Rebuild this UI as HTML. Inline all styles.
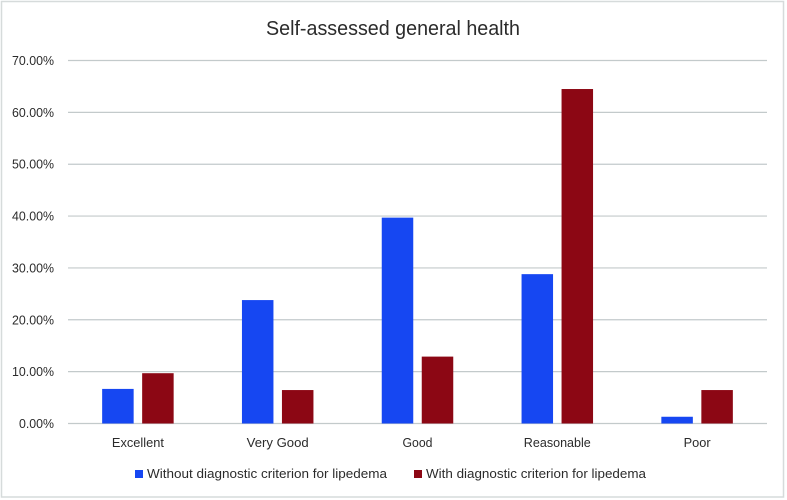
<!DOCTYPE html>
<html>
<head>
<meta charset="utf-8">
<style>
html,body{margin:0;padding:0;background:#fff;width:787px;height:500px;overflow:hidden}
svg{display:block}
text{font-family:"Liberation Sans",sans-serif;fill:#2b2b2b}
</style>
</head>
<body>
<svg id="chart" width="787" height="500" viewBox="0 0 787 500" xmlns="http://www.w3.org/2000/svg">
<rect x="1.5" y="1.5" width="782" height="495.5" fill="#fff" stroke="#d6dbdb" stroke-width="1.5"/>
<text x="393" y="35" font-size="20" text-anchor="middle" textLength="254" lengthAdjust="spacingAndGlyphs">Self-assessed general health</text>
<g id="grid"></g>
<g id="bars"></g>
<g id="labels"></g>
<rect x="135" y="470" width="8" height="8" fill="#1647f2"/>
<text x="147" y="478" font-size="13" textLength="240" lengthAdjust="spacingAndGlyphs">Without diagnostic criterion for lipedema</text>
<rect x="414" y="470" width="8" height="8" fill="#8c0714"/>
<text x="426" y="478" font-size="13" textLength="220" lengthAdjust="spacingAndGlyphs">With diagnostic criterion for lipedema</text>
</svg>
<script>
const categories = ["Excellent", "Very Good", "Good", "Reasonable", "Poor"];
const categoryWidths = [52, 62, 30, 67, 27];
const withoutCriterion = [6.67, 23.8, 39.7, 28.8, 1.3];
const withCriterion = [9.7, 6.45, 12.9, 64.5, 6.45];
const tickValues = [0, 10, 20, 30, 40, 50, 60, 70];
const tickLabels = ["0.00%", "10.00%", "20.00%", "30.00%", "40.00%", "50.00%", "60.00%", "70.00%"];

const NS = "http://www.w3.org/2000/svg";
const plotLeft = 68, plotRight = 767, plotTop = 60.5, plotBottom = 423.5, axisMax = 70;
const barWidth = 31.5, barGap = 8.5;
const yScale = v => plotBottom - (v / axisMax) * (plotBottom - plotTop);
const bandWidth = (plotRight - plotLeft) / categories.length;
const xCenter = i => plotLeft + bandWidth * (i + 0.5);

function make(tag, attrs, text) {
  const el = document.createElementNS(NS, tag);
  for (const k in attrs) el.setAttribute(k, attrs[k]);
  if (text !== undefined) el.textContent = text;
  return el;
}

const grid = document.getElementById("grid");
const bars = document.getElementById("bars");
const labels = document.getElementById("labels");

tickValues.forEach((t, i) => {
  const line = make("line", {x1: plotLeft, x2: plotRight, y1: yScale(t), y2: yScale(t), stroke: "#c3cacb", "stroke-width": 1.2});
  
  
  grid.appendChild(line);
  const label = make("text", {x: 54, y: yScale(t) + 4.5, "font-size": 13, "text-anchor": "end", textLength: tickLabels[i].length * 7, lengthAdjust: "spacingAndGlyphs"}, tickLabels[i]);
  
  
  labels.appendChild(label);
});

categories.forEach((c, i) => {
  const cx = xCenter(i);
  const b1 = make("rect", {x: cx - barGap / 2 - barWidth, y: yScale(withoutCriterion[i]), width: barWidth, height: plotBottom - yScale(withoutCriterion[i]), fill: "#1647f2"});
  
  
  bars.appendChild(b1);
  const b2 = make("rect", {x: cx + barGap / 2, y: yScale(withCriterion[i]), width: barWidth, height: plotBottom - yScale(withCriterion[i]), fill: "#8c0714"});
  
  
  bars.appendChild(b2);
  const label = make("text", {x: cx, y: 447, "font-size": 13, "text-anchor": "middle", textLength: categoryWidths[i], lengthAdjust: "spacingAndGlyphs"}, c);
  
  
  labels.appendChild(label);
});
</script>
</body>
</html>
